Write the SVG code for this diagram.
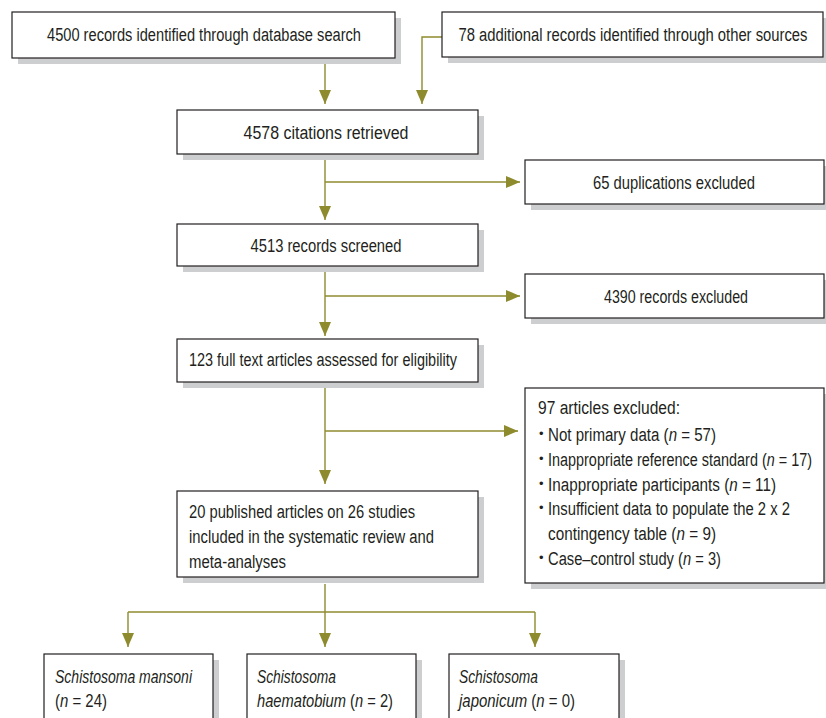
<svg xmlns="http://www.w3.org/2000/svg" width="826" height="718" viewBox="0 0 826 718">
<style>
.sh{fill:#cdcecf}
.bx{fill:#fff;stroke:#231f20;stroke-width:1.2}
text{font-family:"Liberation Sans","Arimo",sans-serif;font-size:18px;fill:#231f20}
.c{text-anchor:middle}
.i{font-style:italic}
.b{font-size:13px}
.ln{fill:none;stroke:#8e8b2e;stroke-width:1.4}
</style>
<defs>
<marker id="ah" markerUnits="userSpaceOnUse" markerWidth="14" markerHeight="12" refX="14" refY="6" orient="auto" viewBox="0 0 14 12">
<path d="M0,0 L14,6 L0,12 z" fill="#8e8b2e"/>
</marker>
</defs>
<g id="connectors">
<path class="ln" d="M325,64 V104" marker-end="url(#ah)"/>
<path class="ln" d="M442,37 H422 V104" marker-end="url(#ah)"/>
<path class="ln" d="M325,160 V220" marker-end="url(#ah)"/>
<path class="ln" d="M325,182 H520" marker-end="url(#ah)"/>
<path class="ln" d="M325,272 V336" marker-end="url(#ah)"/>
<path class="ln" d="M325,296 H520" marker-end="url(#ah)"/>
<path class="ln" d="M325,388 V484" marker-end="url(#ah)"/>
<path class="ln" d="M325,431 H518" marker-end="url(#ah)"/>
<path class="ln" d="M325,584 V647" marker-end="url(#ah)"/>
<path class="ln" d="M128,612 H535"/>
<path class="ln" d="M128,612 V647" marker-end="url(#ah)"/>
<path class="ln" d="M535,612 V647" marker-end="url(#ah)"/>
</g>
<g id="n1">
<rect class="sh" x="18" y="18" width="383" height="46"/>
<rect class="bx" x="12" y="12" width="383" height="46"/>
<text x="204" y="41" class="c" textLength="314" lengthAdjust="spacingAndGlyphs">4500 records identified through database search</text>
</g>
<g id="n2">
<rect class="sh" x="448" y="18" width="381" height="45"/>
<rect class="bx" x="442" y="12" width="381" height="45"/>
<text x="633" y="41" class="c" textLength="349" lengthAdjust="spacingAndGlyphs">78 additional records identified through other sources</text>
</g>
<g id="n3">
<rect class="sh" x="183" y="116" width="301" height="44"/>
<rect class="bx" x="177" y="110" width="301" height="44"/>
<text x="326" y="139" class="c" textLength="165" lengthAdjust="spacingAndGlyphs">4578 citations retrieved</text>
</g>
<g id="n4">
<rect class="sh" x="531" y="166" width="299" height="44"/>
<rect class="bx" x="525" y="160" width="299" height="44"/>
<text x="674" y="189" class="c" textLength="162" lengthAdjust="spacingAndGlyphs">65 duplications excluded</text>
</g>
<g id="n5">
<rect class="sh" x="183" y="230" width="301" height="42"/>
<rect class="bx" x="177" y="224" width="301" height="42"/>
<text x="326" y="252" class="c" textLength="151" lengthAdjust="spacingAndGlyphs">4513 records screened</text>
</g>
<g id="n6">
<rect class="sh" x="531" y="280" width="299" height="44"/>
<rect class="bx" x="525" y="274" width="299" height="44"/>
<text x="676" y="303" class="c" textLength="144" lengthAdjust="spacingAndGlyphs">4390 records excluded</text>
</g>
<g id="n7">
<rect class="sh" x="183" y="345" width="301" height="43"/>
<rect class="bx" x="177" y="339" width="301" height="43"/>
<text x="189" y="366" textLength="268" lengthAdjust="spacingAndGlyphs">123 full text articles assessed for eligibility</text>
</g>
<g id="n8">
<rect class="sh" x="531" y="394" width="299" height="195"/>
<rect class="bx" x="525" y="388" width="299" height="195"/>
<text x="538" y="414" textLength="142" lengthAdjust="spacingAndGlyphs">97 articles excluded:</text>
<text x="539" y="438" class="b">•</text>
<text x="548" y="441" textLength="168" lengthAdjust="spacingAndGlyphs">Not primary data (<tspan class="i">n</tspan> = 57)</text>
<text x="539" y="463" class="b">•</text>
<text x="548" y="466" textLength="264" lengthAdjust="spacingAndGlyphs">Inappropriate reference standard (<tspan class="i">n</tspan> = 17)</text>
<text x="539" y="488" class="b">•</text>
<text x="548" y="491" textLength="228" lengthAdjust="spacingAndGlyphs">Inappropriate participants (<tspan class="i">n</tspan> = 11)</text>
<text x="539" y="512" class="b">•</text>
<text x="548" y="515" textLength="242" lengthAdjust="spacingAndGlyphs">Insufficient data to populate the 2 x 2</text>
<text x="548" y="540" textLength="168" lengthAdjust="spacingAndGlyphs">contingency table (<tspan class="i">n</tspan> = 9)</text>
<text x="539" y="562" class="b">•</text>
<text x="548" y="565" textLength="173" lengthAdjust="spacingAndGlyphs">Case–control study (<tspan class="i">n</tspan> = 3)</text>
</g>
<g id="n9">
<rect class="sh" x="183" y="497" width="301" height="86"/>
<rect class="bx" x="177" y="491" width="301" height="86"/>
<text x="189" y="518" textLength="226" lengthAdjust="spacingAndGlyphs">20 published articles on 26 studies</text>
<text x="189" y="543" textLength="245" lengthAdjust="spacingAndGlyphs">included in the systematic review and</text>
<text x="189" y="568" textLength="97" lengthAdjust="spacingAndGlyphs">meta-analyses</text>
</g>
<g id="n10">
<rect class="sh" x="50" y="660" width="169" height="70"/>
<rect class="bx" x="44" y="654" width="169" height="70"/>
<text x="55" y="683" class="i" textLength="137" lengthAdjust="spacingAndGlyphs">Schistosoma mansoni</text>
<text x="55" y="707" textLength="52" lengthAdjust="spacingAndGlyphs">(<tspan class="i">n</tspan> = 24)</text>
</g>
<g id="n11">
<rect class="sh" x="253" y="660" width="169" height="70"/>
<rect class="bx" x="247" y="654" width="169" height="70"/>
<text x="257" y="683" class="i" textLength="79" lengthAdjust="spacingAndGlyphs">Schistosoma</text>
<text x="257" y="707" textLength="136" lengthAdjust="spacingAndGlyphs"><tspan class="i">haematobium</tspan> (<tspan class="i">n</tspan> = 2)</text>
</g>
<g id="n12">
<rect class="sh" x="455" y="660" width="170" height="70"/>
<rect class="bx" x="449" y="654" width="170" height="70"/>
<text x="459" y="683" class="i" textLength="79" lengthAdjust="spacingAndGlyphs">Schistosoma</text>
<text x="459" y="707" textLength="116" lengthAdjust="spacingAndGlyphs"><tspan class="i">japonicum</tspan> (<tspan class="i">n</tspan> = 0)</text>
</g>
</svg>
